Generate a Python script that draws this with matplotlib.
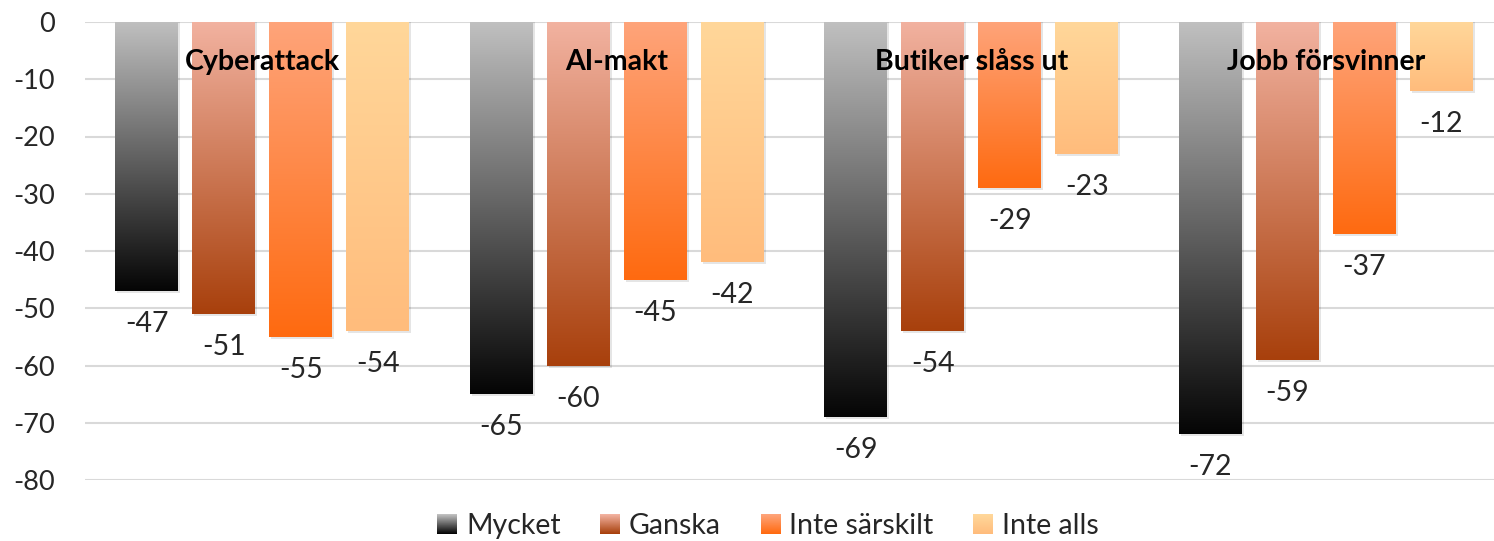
import numpy as np
import matplotlib
matplotlib.use("Agg")
import matplotlib.pyplot as plt
from matplotlib.colors import LinearSegmentedColormap
from matplotlib.patches import Rectangle
from matplotlib.legend_handler import HandlerBase

categories = ["Cyberattack", "AI-makt", "Butiker slåss ut", "Jobb försvinner"]
series_names = ["Mycket", "Ganska", "Inte särskilt", "Inte alls"]
mycket = [-47, -65, -69, -72]
ganska = [-51, -60, -54, -59]
inte_sarskilt = [-55, -45, -29, -37]
inte_alls = [-54, -42, -23, -12]
y_ticks = [0, -10, -20, -30, -40, -50, -60, -70, -80]

series = [mycket, ganska, inte_sarskilt, inte_alls]
gradients = [("#c0c0c0", "#050505"),
             ("#f2b2a0", "#a8400c"),
             ("#fea47a", "#ff6a10"),
             ("#ffd79a", "#ffbc7c")]

plt.rcParams['font.family'] = ['Lato', 'DejaVu Sans']

W, H = 1494, 541
fig = plt.figure(figsize=(W / 100, H / 100), dpi=100)
left_px, top_px, bottom_px = 85, 22, 480
group_px = 354.5
ax = fig.add_axes([left_px / W, (H - bottom_px) / H, (W - left_px) / W, (bottom_px - top_px) / H])
ax.set_ylim(-80, 0)
ax.set_xlim(-0.5, -0.5 + (W - left_px) / group_px)

x = np.arange(len(categories))
bw = 63 / group_px
step = 77 / group_px

for i, (vals, (c_top, c_bot)) in enumerate(zip(series, gradients)):
    xs = x + (i - 1.5) * step
    bars = ax.bar(xs, vals, width=bw, color="none", edgecolor="none", zorder=3)
    cmap = LinearSegmentedColormap.from_list("g%d" % i, [c_top, c_bot])
    grad = np.linspace(0, 1, 256).reshape(-1, 1)
    for b, v in zip(bars, vals):
        x0 = b.get_x()
        sh = Rectangle((x0 + 0.006, 0), bw, v - 0.35, facecolor="#000000", alpha=0.10,
                       edgecolor="none", zorder=2)
        ax.add_patch(sh)
        im = ax.imshow(grad, aspect="auto", cmap=cmap, extent=(x0, x0 + bw, v, 0),
                       zorder=3, interpolation="bilinear")
        im.set_clip_path(b)
        ax.annotate(str(v), (x0 + bw / 2, v), xytext=(0, -33), textcoords="offset pixels",
                    ha="center", va="center", fontsize=20.5, color="#262626", zorder=5)

for xi, cat in zip(x, categories):
    ax.text(xi, -7, cat, ha="center", va="center", fontsize=20.5, fontweight="bold",
            color="#000000", zorder=6)

ax.set_xlim(-0.5, -0.5 + (W - left_px) / group_px)
ax.set_ylim(-80, 0)
ax.set_yticks(y_ticks)
ax.set_yticklabels([str(t) for t in y_ticks])
ax.tick_params(axis="y", length=0, pad=21.5, labelsize=19.5, labelcolor="#262626")
ax.set_xticks([])
for s in ax.spines.values():
    s.set_visible(False)
ax.yaxis.grid(True, color="#d9d9d9", linewidth=1.5, zorder=0)
ax.set_axisbelow(True)


class GradHandler(HandlerBase):
    def __init__(self, c_top, c_bot):
        super().__init__()
        self.cmap = LinearSegmentedColormap.from_list("lg", [c_top, c_bot])

    def create_artists(self, legend, orig_handle, xdescent, ydescent, width, height, fontsize, trans):
        n = 20
        side = height * 1.0
        x0 = -xdescent + (width - side)
        y0 = -ydescent + (height - side) / 2
        arts = []
        for k in range(n):
            r = Rectangle((x0, y0 + side - (k + 1) * side / n), side, side / n + 0.2,
                          facecolor=self.cmap(k / (n - 1)), edgecolor="none", transform=trans)
            arts.append(r)
        return arts


handles = [Rectangle((0, 0), 1, 1) for _ in series_names]
hmap = {h: GradHandler(*g) for h, g in zip(handles, gradients)}
fig.legend(handles, series_names, handler_map=hmap, loc="center",
           bbox_to_anchor=(768 / W, 15 / H), ncol=4, frameon=False, fontsize=20.5,
           handlelength=0.7, handletextpad=0.3, columnspacing=1.4, labelcolor="#262626",
           borderpad=0)

fig.savefig("out.png", dpi=100)
